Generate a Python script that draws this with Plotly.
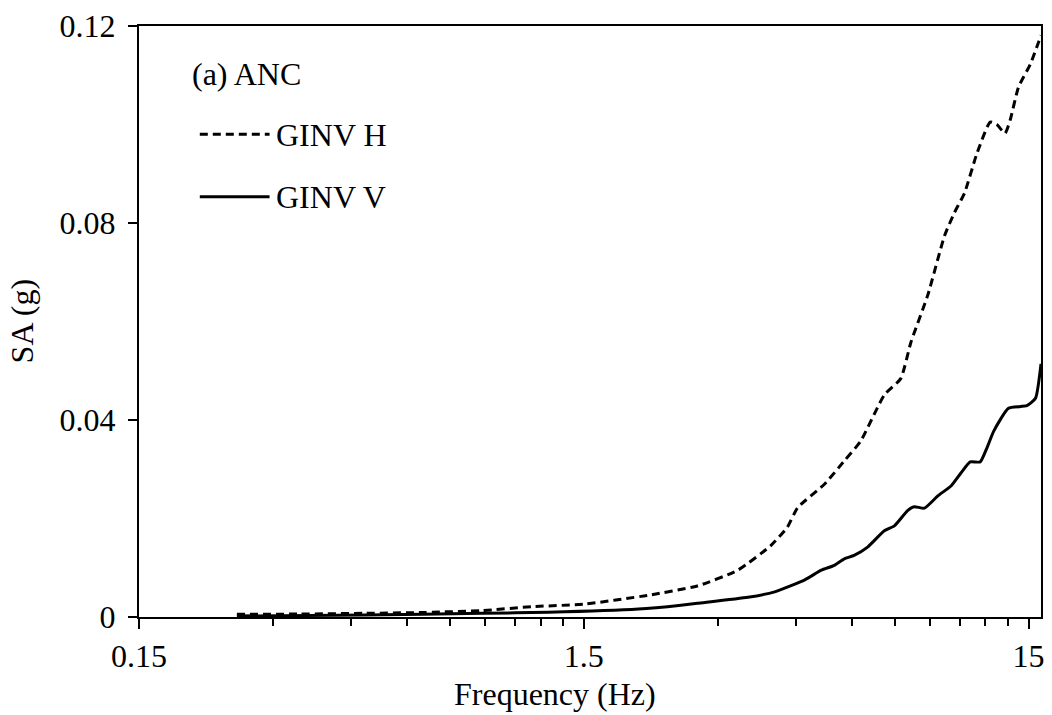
import math
import plotly.graph_objects as go

# ---- data ----
freq_h = [0.249, 0.344, 0.485, 0.639, 0.886, 1.147, 1.5, 2.09, 2.70, 3.33, 3.95, 4.30,
          4.54, 5.22, 5.78, 6.29, 7.11, 7.74, 8.16, 8.90, 9.71, 10.22, 10.77, 11.48,
          12.30, 12.73, 13.28, 13.64, 14.24, 15.15, 16.0]
sa_h = [0.00054, 0.0006, 0.00075, 0.0009, 0.0013, 0.0021, 0.0026, 0.0044, 0.0063, 0.0095,
        0.0145, 0.0182, 0.0222, 0.0270, 0.0317, 0.0357, 0.0451, 0.0484, 0.0558, 0.0653,
        0.0774, 0.0821, 0.0861, 0.0941, 0.1005, 0.1000, 0.0982, 0.1009, 0.1076, 0.1123,
        0.1181]

freq_v = [0.249, 0.485, 0.886, 1.25, 1.99, 2.48, 2.70, 3.51, 4.03, 4.70, 5.13, 5.49,
          5.78, 6.08, 6.52, 7.11, 7.49, 8.02, 8.30, 8.75, 9.38, 10.04, 10.58, 11.09,
          11.68, 12.09, 12.52, 13.52, 14.87, 15.55, 16.0]
sa_v = [0.0002, 0.0004, 0.00075, 0.00095, 0.0016, 0.0024, 0.0028, 0.0040, 0.0051, 0.0075,
        0.0095, 0.0105, 0.0118, 0.0125, 0.0142, 0.0175, 0.0185, 0.0216, 0.0224, 0.0221,
        0.0246, 0.0266, 0.0293, 0.0315, 0.0315, 0.0343, 0.0377, 0.0424, 0.0429, 0.0444,
        0.0514]

x_tickvals = [0.15, 1.5, 15]
x_ticktext = ["0.15", "1.5", "15"]
x_minor = [0.15 * k for k in range(2, 10)] + [1.5 * k for k in range(2, 10)]
y_tickvals = [0, 0.04, 0.08, 0.12]
y_ticktext = ["0", "0.04", "0.08", "0.12"]

series_names = ["GINV H", "GINV V"]

FONT = "Liberation Serif"
FS = 32

fig = go.Figure()
fig.add_trace(go.Scatter(x=freq_h, y=sa_h, mode="lines", name=series_names[0],
                         line=dict(color="black", width=3, dash="8px,5px", shape="spline", smoothing=0.5)))
fig.add_trace(go.Scatter(x=freq_v, y=sa_v, mode="lines", name=series_names[1],
                         line=dict(color="black", width=3, shape="spline", smoothing=0.5)))

L, R, T, B = 139, 8, 22, 98
W, H = 1052, 715
pw = W - L - R
ph = H - T - B

def px(x):
    return (x - L) / pw

def py(y):
    return (H - B - y) / ph

fig.update_layout(
    width=W, height=H,
    margin=dict(l=L, r=R, t=T, b=B),
    paper_bgcolor="white", plot_bgcolor="white",
    showlegend=False,
    font=dict(family=FONT, size=FS, color="black"),
    xaxis=dict(type="log", range=[math.log10(0.15), math.log10(16)],
               tickmode="array", tickvals=x_tickvals, ticktext=x_ticktext,
               ticks="outside", ticklen=10, tickwidth=1.5, tickcolor="black",
               showline=True, linecolor="black", linewidth=2, mirror=True,
               showgrid=False, zeroline=False,
               minor=dict(tickmode="array", tickvals=x_minor, ticks="outside",
                          ticklen=7, tickwidth=1.5, tickcolor="black", showgrid=False),
               tickfont=dict(family=FONT, size=FS)),
    yaxis=dict(range=[0, 0.12], tickmode="array", tickvals=y_tickvals, ticktext=y_ticktext,
               ticks="outside", ticklen=9, tickwidth=1.5, tickcolor="black",
               showline=True, linecolor="black", linewidth=2, mirror=True,
               showgrid=False, zeroline=False, ticklabelstandoff=6,
               tickfont=dict(family=FONT, size=FS)),
)

annotations = [
    dict(text="Frequency (Hz)", x=px(556), y=py(695), xref="paper", yref="paper",
         xanchor="center", yanchor="middle", showarrow=False, font=dict(family=FONT, size=FS)),
    dict(text="SA (g)", x=px(22), y=py(319), xref="paper", yref="paper", textangle=-90,
         xanchor="center", yanchor="middle", showarrow=False, font=dict(family=FONT, size=FS)),
    dict(text="(a) ANC", x=px(190), y=py(70), xref="paper", yref="paper",
         xanchor="left", yanchor="middle", showarrow=False, font=dict(family=FONT, size=FS)),
    dict(text=series_names[0], x=px(274), y=py(132), xref="paper", yref="paper",
         xanchor="left", yanchor="middle", showarrow=False, font=dict(family=FONT, size=FS)),
    dict(text=series_names[1], x=px(274), y=py(194), xref="paper", yref="paper",
         xanchor="left", yanchor="middle", showarrow=False, font=dict(family=FONT, size=FS)),
]
fig.update_layout(annotations=annotations)

fig.add_shape(type="line", xref="paper", yref="paper", x0=px(200), x1=px(270), y0=py(131), y1=py(131),
              line=dict(color="black", width=3, dash="8px,5px"))
fig.add_shape(type="line", xref="paper", yref="paper", x0=px(200), x1=px(270), y0=py(194), y1=py(194),
              line=dict(color="black", width=3))

fig.write_html("out.html")
